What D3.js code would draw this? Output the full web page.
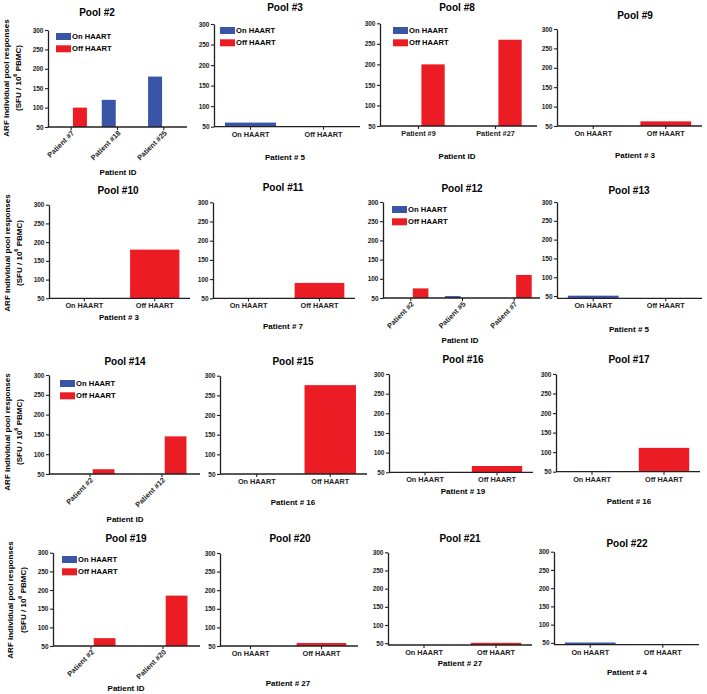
<!DOCTYPE html>
<html>
<head>
<meta charset="utf-8">
<script src="https://cdn.jsdelivr.net/npm/d3@7"></script>
<style>
html,body{margin:0;padding:0;background:#fff;}
svg{display:block;font-family:"Liberation Sans",Arial,Helvetica,sans-serif;font-weight:bold;}
</style>
</head>
<body>
<svg id="chart" width="707" height="694"></svg>
<script>
// ---------- DATA ----------
const titles = ["Pool #2","Pool #3","Pool #8","Pool #9","Pool #10","Pool #11","Pool #12","Pool #13",
                "Pool #14","Pool #15","Pool #16","Pool #17","Pool #19","Pool #20","Pool #21","Pool #22"];
const xTitles = ["Patient ID","Patient # 5","Patient ID","Patient # 3","Patient # 3","Patient # 7","Patient ID","Patient # 5",
                 "Patient ID","Patient # 16","Patient # 19","Patient # 16","Patient ID","Patient # 27","Patient # 27","Patient # 4"];
const seriesNames = ["On HAART","Off HAART"];
const onOff = ["On HAART","Off HAART"];
const categories = [
  ["Patient #7","Patient #18","Patient #25"], onOff, ["Patient #9","Patient #27"], onOff,
  onOff, onOff, ["Patient #2","Patient #5","Patient #7"], onOff,
  ["Patient #2","Patient #12"], onOff, onOff, onOff,
  ["Patient #2","Patient #20"], onOff, onOff, onOff
];
const onHAART = [
  [null,120,180],[60,null],[null,null],[null,null],
  [null,null],[null,null],[null,55,null],[51,null],
  [null,null],[null,null],[null,null],[null,null],
  [null,null],[null,null],[null,null],[51,null]
];
const offHAART = [
  [100,null,null],[null,null],[200,260],[null,62],
  [null,180],[null,90],[75,null,110],[null,null],
  [62,145],[null,276],[null,66],[null,111],
  [71,185],[null,58],[null,51],[null,null]
];
const yTicks = [50,100,150,200,250,300];
const yMin = [50,50,50,50, 50,50,50,44, 50,50,50,50, 50,50,45,45];
const yLabel1 = "ARF individual pool responses";

// ---------- LAYOUT (positions only) ----------
const layout = [
  {ax:48, end:187, b0:48, b1:187, top:30, bot:127, tx:97, ty:12, lx:118, ly:172, grouped:true, rot:true, legend:[56,33], ylab:[6,18,78]},
  {ax:214, end:360, b0:214, b1:360, top:24, bot:126.7, tx:285, ty:7, lx:285, ly:157, legend:[220,27]},
  {ax:380, end:537, b0:380, b1:534, top:23.3, bot:126, tx:457, ty:7, lx:457, ly:156, grouped:true, rot:false, legend:[393,27]},
  {ax:557, end:702, b0:557, b1:702, top:29, bot:126, tx:635, ty:15, lx:635, ly:155},

  {ax:49, end:190, b0:49, b1:190, top:204.7, bot:298.3, tx:118, ty:190, lx:119, ly:317, ylab:[7,19,253]},
  {ax:213, end:355, b0:213, b1:355, top:202.3, bot:298.3, tx:283, ty:187, lx:283, ly:326},
  {ax:383, end:540, b0:385, b1:540, top:202, bot:298, tx:462, ty:188, lx:460, ly:340, grouped:true, rot:true, legend:[392,206]},
  {ax:557, end:702, b0:557, b1:702, top:202, bot:298.3, tx:629, ty:190, lx:629, ly:329},

  {ax:49, end:200, b0:54, b1:198, top:375, bot:474, tx:125, ty:361, lx:125, ly:519, grouped:true, rot:true, legend:[60,380], ylab:[7,19,432]},
  {ax:220, end:367, b0:220, b1:367, top:375.7, bot:474, tx:293, ty:361, lx:293, ly:502},
  {ax:389, end:533, b0:389, b1:533, top:374, bot:472.3, tx:463, ty:359, lx:463, ly:491},
  {ax:556, end:700, b0:556, b1:700, top:374, bot:471.7, tx:629, ty:359, lx:629, ly:501},

  {ax:53, end:200, b0:55, b1:199, top:552.7, bot:646, tx:126, ty:538, lx:126, ly:688, grouped:true, rot:true, legend:[62,556], ylab:[10,23,600]},
  {ax:220, end:358, b0:215, b1:357, top:553, bot:646, tx:290, ty:538, lx:288, ly:683},
  {ax:388, end:532, b0:388, b1:532, top:552.3, bot:645, tx:460, ty:538, lx:460, ly:663},
  {ax:554, end:699, b0:554, b1:699, top:551.7, bot:644.7, tx:627, ty:543, lx:627, ly:672}
];

const colors = {"On HAART":"#3a55a5","Off HAART":"#ec1c24"};
const axisColor = "#231f20";

const svg = d3.select("#chart");

function drawPanel(i){
  const L = layout[i];
  const g = svg.append("g").attr("class","panel");
  const y = d3.scaleLinear().domain([yMin[i],300]).range([L.bot, L.top]);
  const x = d3.scaleBand().domain(categories[i]).range([L.b0, L.b1]);
  let x1 = null;
  if (L.grouped) {
    x.paddingInner(0).paddingOuter(0);
    const gw = x.bandwidth()*0.68;
    x1 = d3.scaleBand().domain(seriesNames).range([-gw/2, gw/2]).paddingInner(0.2);
  } else {
    x.paddingInner(0.3).paddingOuter(0.15);
  }

  // bars
  const series = [{name:"On HAART", vals:onHAART[i]},{name:"Off HAART", vals:offHAART[i]}];
  series.forEach(s=>{
    const data = categories[i].map((c,j)=>({c, v:s.vals[j]})).filter(d=>d.v!=null);
    g.selectAll(null).data(data).enter().append("rect")
      .attr("x", d => L.grouped ? x(d.c)+x.bandwidth()/2 + x1(s.name) : x(d.c))
      .attr("width", L.grouped ? x1.bandwidth() : x.bandwidth())
      .attr("y", d => y(d.v))
      .attr("height", d => y(yMin[i]) - y(d.v))
      .attr("fill", colors[s.name]);
  });

  // y axis
  const ya = g.append("g").attr("transform",`translate(${L.ax},0)`)
    .call(d3.axisLeft(y).tickValues(yTicks).tickSize(3).tickSizeOuter(0).tickPadding(1.5));
  ya.select(".domain").attr("stroke",axisColor).attr("stroke-width",1.3);
  ya.selectAll(".tick line").attr("stroke",axisColor).attr("stroke-width",1.1);
  ya.selectAll(".tick text").attr("font-size","6.5px").attr("font-family","Liberation Sans, Arial, sans-serif").attr("font-weight","bold").attr("fill","#222");

  // x axis
  const xa = g.append("g").attr("transform",`translate(0,${L.bot})`)
    .call(d3.axisBottom(x).tickSize(3).tickSizeOuter(0).tickPadding(2));
  xa.select(".domain").remove();
  xa.selectAll(".tick line").attr("stroke",axisColor).attr("stroke-width",1.1);
  const xt = xa.selectAll(".tick text").attr("font-family","Liberation Sans, Arial, sans-serif").attr("font-weight","bold").attr("fill","#222");
  if (L.rot) {
    xt.attr("font-size","7.3px").attr("text-anchor","end")
      .attr("dy","0.3em").attr("dx","0")
      .attr("transform","translate(2,5) rotate(-45)").attr("y",0);
  } else {
    xt.attr("font-size","7.3px");
  }
  g.append("line").attr("x1",L.ax).attr("x2",L.end).attr("y1",L.bot).attr("y2",L.bot)
    .attr("stroke",axisColor).attr("stroke-width",1.3);

  // title
  g.append("text").attr("x",L.tx).attr("y",L.ty).attr("text-anchor","middle").attr("dominant-baseline","central")
    .attr("font-size","10px").text(titles[i]);
  // x title
  g.append("text").attr("x",L.lx).attr("y",L.ly).attr("text-anchor","middle").attr("dominant-baseline","central")
    .attr("font-size","8px").text(xTitles[i]);

  // legend
  if (L.legend) {
    const [lx,ly] = L.legend;
    seriesNames.forEach((s,k)=>{
      g.append("rect").attr("x",lx).attr("y",ly+k*12.3).attr("width",15).attr("height",7).attr("fill",colors[s]);
      g.append("text").attr("x",lx+16).attr("y",ly+k*12.3+3.6).attr("dominant-baseline","central")
        .attr("font-size","7.6px").text(s);
    });
  }

  // y label
  if (L.ylab) {
    const [x1p,x2p,cy] = L.ylab;
    g.append("text").attr("transform",`translate(${x1p},${cy}) rotate(-90)`).attr("text-anchor","middle")
      .attr("dominant-baseline","central").attr("font-size","8px").text(yLabel1);
    const t2 = g.append("text").attr("transform",`translate(${x2p},${cy}) rotate(-90)`).attr("text-anchor","middle")
      .attr("dominant-baseline","central").attr("font-size","8px");
    t2.append("tspan").text("(SFU / 10");
    t2.append("tspan").attr("font-size","5.5px").attr("dy","-3").text("6");
    t2.append("tspan").attr("dy","3").text(" PBMC)");
  }
}

titles.forEach((t,i)=>drawPanel(i));
</script>
</body>
</html>
